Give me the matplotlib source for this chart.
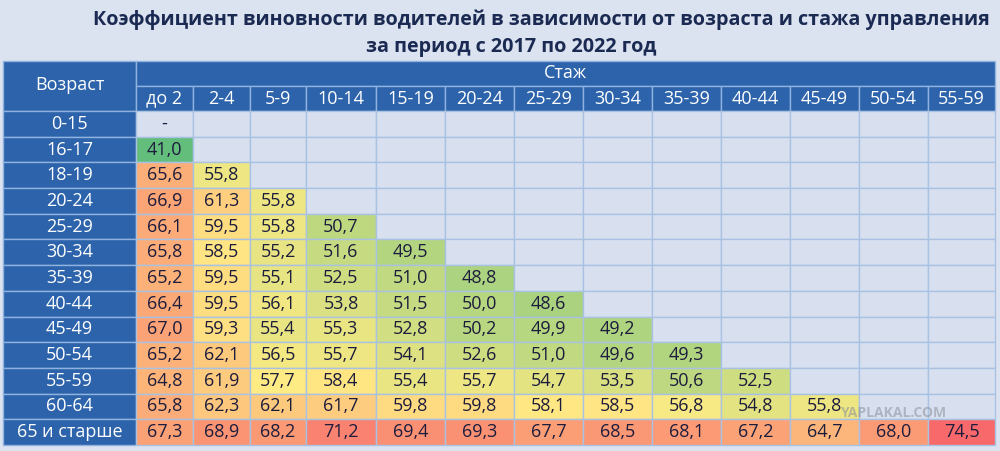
import numpy as np
import matplotlib
matplotlib.use("Agg")
import matplotlib.pyplot as plt
from matplotlib.patches import Rectangle
from matplotlib.colors import LinearSegmentedColormap

plt.rcParams['font.family'] = ['Open Sans', 'DejaVu Sans']

title1 = "Коэффициент виновности водителей в зависимости от возраста и стажа управления"
title2 = "за период с 2017 по 2022 год"
row_header = "Возраст"
col_header = "Стаж"

ages = ['0-15', '16-17', '18-19', '20-24', '25-29', '30-34', '35-39',
        '40-44', '45-49', '50-54', '55-59', '60-64', '65 и старше']
experience = ['до 2', '2-4', '5-9', '10-14', '15-19', '20-24', '25-29',
              '30-34', '35-39', '40-44', '45-49', '50-54', '55-59']

r_0_15 = [None]
r_16_17 = [41.0]
r_18_19 = [65.6, 55.8]
r_20_24 = [66.9, 61.3, 55.8]
r_25_29 = [66.1, 59.5, 55.8, 50.7]
r_30_34 = [65.8, 58.5, 55.2, 51.6, 49.5]
r_35_39 = [65.2, 59.5, 55.1, 52.5, 51.0, 48.8]
r_40_44 = [66.4, 59.5, 56.1, 53.8, 51.5, 50.0, 48.6]
r_45_49 = [67.0, 59.3, 55.4, 55.3, 52.8, 50.2, 49.9, 49.2]
r_50_54 = [65.2, 62.1, 56.5, 55.7, 54.1, 52.6, 51.0, 49.6, 49.3]
r_55_59 = [64.8, 61.9, 57.7, 58.4, 55.4, 55.7, 54.7, 53.5, 50.6, 52.5]
r_60_64 = [65.8, 62.3, 62.1, 61.7, 59.8, 59.8, 58.1, 58.5, 56.8, 54.8, 55.8]
r_65 = [67.3, 68.9, 68.2, 71.2, 69.4, 69.3, 67.7, 68.5, 68.1, 67.2, 64.7, 68.0, 74.5]

table = [r_0_15, r_16_17, r_18_19, r_20_24, r_25_29, r_30_34, r_35_39,
         r_40_44, r_45_49, r_50_54, r_55_59, r_60_64, r_65]

# layout (pixel coordinates of the figure)
W, H = 1000, 451
col_edges = [3, 136, 193, 250, 306, 376, 445, 514, 583, 652, 721, 790, 859, 928, 995]
top, mid_hdr, hdr_bottom, bottom = 61, 86, 111, 445
n_rows = len(ages)
row_edges = np.linspace(hdr_bottom, bottom, n_rows + 1)

bg = '#dce3f0'
hdr_blue = '#2c63ab'
hdr_line = '#8fb2de'
empty_c = '#d8e0f0'
grid_c = '#a9c2e2'
txt_c = '#1c1c3c'
title_c = '#1b2a52'

all_vals = np.array([v for r in table for v in r if v is not None])
vmin, vmax, vmid = all_vals.min(), all_vals.max(), np.percentile(all_vals, 50)
cmap_lo = LinearSegmentedColormap.from_list('lo', ['#63be7b', '#ffeb84'])
cmap_hi = LinearSegmentedColormap.from_list('hi', ['#ffeb84', '#f8696b'])

def color_for(v):
    if v <= vmid:
        return cmap_lo((v - vmin) / (vmid - vmin))
    return cmap_hi((v - vmid) / (vmax - vmid))

fig = plt.figure(figsize=(W / 100, H / 100), dpi=100)
fig.patch.set_facecolor(bg)
ax = fig.add_axes([0, 0, 1, 1])
ax.set_xlim(0, W)
ax.set_ylim(H, 0)
ax.axis('off')

ax.text(541, 20, title1, ha='center', va='center', fontsize=14.2,
        fontweight='bold', color=title_c)
ax.text(511, 47, title2, ha='center', va='center', fontsize=14.2,
        fontweight='bold', color=title_c)

fs = 13
# header: age column
ax.add_patch(Rectangle((col_edges[0], top), col_edges[1] - col_edges[0],
                       hdr_bottom - top, facecolor=hdr_blue, edgecolor=hdr_line, lw=1))
ax.text((col_edges[0] + col_edges[1]) / 2, (top + hdr_bottom) / 2 - 1, row_header,
        ha='center', va='center', color='white', fontsize=fs)
# header: experience span
ax.add_patch(Rectangle((col_edges[1], top), col_edges[-1] - col_edges[1],
                       mid_hdr - top, facecolor=hdr_blue, edgecolor=hdr_line, lw=1))
ax.text((col_edges[1] + col_edges[-1]) / 2, (top + mid_hdr) / 2, col_header,
        ha='center', va='center', color='white', fontsize=fs)
for j, lab in enumerate(experience):
    x0, x1 = col_edges[j + 1], col_edges[j + 2]
    ax.add_patch(Rectangle((x0, mid_hdr), x1 - x0, hdr_bottom - mid_hdr,
                           facecolor=hdr_blue, edgecolor=hdr_line, lw=1))
    ax.text((x0 + x1) / 2, (mid_hdr + hdr_bottom) / 2, lab,
            ha='center', va='center', color='white', fontsize=fs)

for i, age in enumerate(ages):
    y0, y1 = row_edges[i], row_edges[i + 1]
    ax.add_patch(Rectangle((col_edges[0], y0), col_edges[1] - col_edges[0], y1 - y0,
                           facecolor=hdr_blue, edgecolor=hdr_line, lw=1))
    ax.text((col_edges[0] + col_edges[1]) / 2, (y0 + y1) / 2, age,
            ha='center', va='center', color='white', fontsize=fs)
    vals = table[i]
    for j in range(len(experience)):
        x0, x1 = col_edges[j + 1], col_edges[j + 2]
        v = vals[j] if j < len(vals) else 'empty'
        if v == 'empty':
            fc = empty_c
            s = ''
        elif v is None:
            fc = empty_c
            s = '-'
        else:
            fc = color_for(v)
            s = f"{v:.1f}".replace('.', ',')
        ax.add_patch(Rectangle((x0, y0), x1 - x0, y1 - y0, facecolor=fc,
                               edgecolor=grid_c, lw=1))
        if s:
            ax.text((x0 + x1) / 2, (y0 + y1) / 2, s, ha='center', va='center',
                    color=txt_c, fontsize=fs)

ax.text(893, 413, 'YAPLAKAL.COM', ha='center', va='center', fontsize=10,
        fontweight='bold', color='#8a8f99', alpha=0.55)

fig.savefig('out.png', dpi=100, facecolor=bg)
